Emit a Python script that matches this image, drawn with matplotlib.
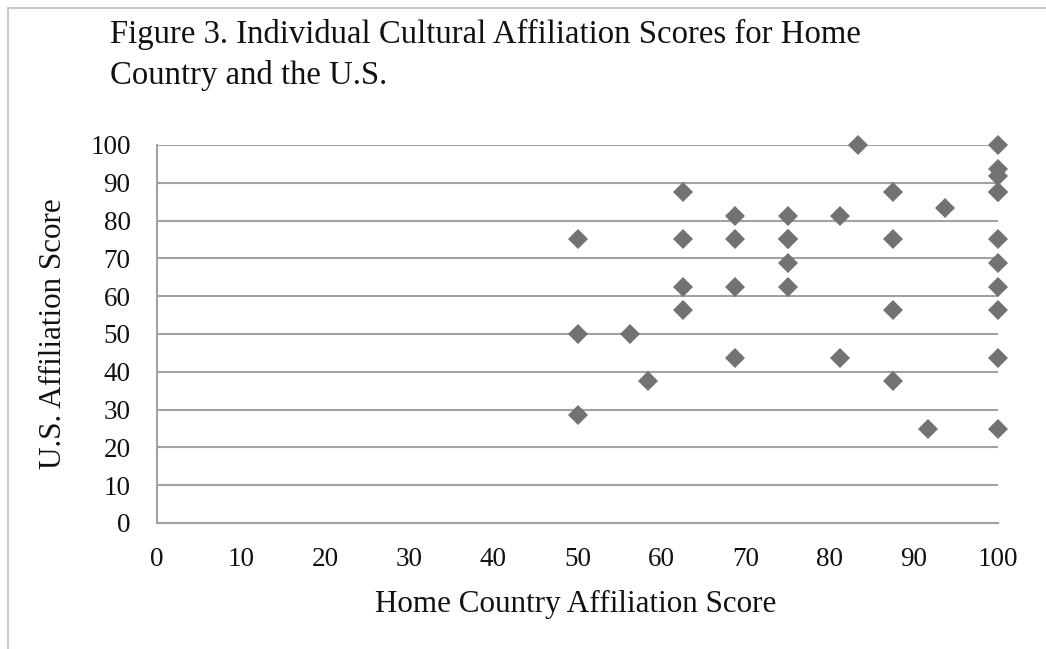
import matplotlib
matplotlib.use("Agg")
import matplotlib.pyplot as plt
from matplotlib.lines import Line2D

# Home country score (x) and U.S. score (y) for each respondent
home_scores = [50, 50, 50, 56.25, 58.33,
               62.5, 62.5, 62.5, 62.5,
               68.75, 68.75, 68.75, 68.75,
               75, 75, 75, 75, 75,
               81.25, 81.25, 83.33,
               87.5, 87.5, 87.5, 87.5,
               91.67, 93.75,
               100, 100, 100, 100, 100, 100, 100, 100, 100, 100, 100]
us_scores = [75, 50, 28.57, 50, 37.5,
             87.5, 75, 62.5, 56.25,
             81.25, 75, 62.5, 43.75,
             81.25, 75, 75, 68.75, 62.5,
             81.25, 43.75, 100,
             87.5, 75, 56.25, 37.5,
             25, 83.33,
             100, 93.75, 91.67, 87.5, 87.5, 75, 68.75, 62.5, 56.25, 43.75, 25]

x_ticks = [0, 10, 20, 30, 40, 50, 60, 70, 80, 90, 100]
y_ticks = [0, 10, 20, 30, 40, 50, 60, 70, 80, 90, 100]

title_text = "Figure 3. Individual Cultural Affiliation Scores for Home\nCountry and the U.S."
x_label = "Home Country Affiliation Score"
y_label = "U.S. Affiliation Score"

SERIF = ["Liberation Serif", "DejaVu Serif"]
GRID = "#a2a2a2"
MARK = "#727272"
TEXT = "#111111"

W, H = 1046, 649
fig = plt.figure(figsize=(W / 100, H / 100), dpi=100)
fig.patch.set_facecolor("white")
renderer = fig.canvas.get_renderer()


def fit_width(txt, target_px):
    """Scale a text's font size so that its rendered width is target_px."""
    w = txt.get_window_extent(renderer).width
    txt.set_fontsize(txt.get_fontsize() * target_px / w)


ax = fig.add_axes([157 / W, 1 - 523 / H, (998 - 157) / W, (523 - 145) / H])
ax.set_xlim(0, 100)
ax.set_ylim(0, 100)
ax.set_xticks(x_ticks)
ax.set_yticks(y_ticks)

for v in y_ticks[1:]:
    ax.axhline(v, color=GRID, lw=1.5, zorder=1)

for side in ("top", "right"):
    ax.spines[side].set_visible(False)
for side in ("left", "bottom"):
    ax.spines[side].set_color(GRID)
    ax.spines[side].set_linewidth(1.5)

ax.tick_params(axis="both", length=0, labelcolor=TEXT)
ax.tick_params(axis="y", pad=19)
ax.tick_params(axis="x", pad=17)
for lab in ax.get_yticklabels() + ax.get_xticklabels():
    lab.set_fontfamily(SERIF)
    lab.set_fontsize(19.5)

ax.plot(home_scores, us_scores, linestyle="none", marker="D", markersize=10.5,
        color=MARK, markeredgewidth=0, clip_on=False, zorder=3)

xl = fig.text(576 / W, 1 - 612 / H, x_label, fontfamily=SERIF, fontsize=20,
              ha="center", va="baseline", color=TEXT)
fit_width(xl, 402)

yl = fig.text(54 / W, 1 - 334 / H, y_label, fontfamily=SERIF, fontsize=20,
              rotation=90, ha="center", va="center", color=TEXT)
yl.set_fontsize(xl.get_fontsize())

title = fig.text(110 / W, 1 - 19 / H, title_text, fontfamily=SERIF, fontsize=23,
                 ha="left", va="top", linespacing=1.4, color=TEXT)
fit_width(title, 753)

# outer frame on the top and left edges
fig.add_artist(Line2D([8 / W, 1], [1 - 8 / H, 1 - 8 / H], transform=fig.transFigure,
                      color="#c4c4c4", lw=1.3))
fig.add_artist(Line2D([8 / W, 8 / W], [0, 1 - 8 / H], transform=fig.transFigure,
                      color="#c4c4c4", lw=1.3))

fig.savefig("out.png", dpi=100)
